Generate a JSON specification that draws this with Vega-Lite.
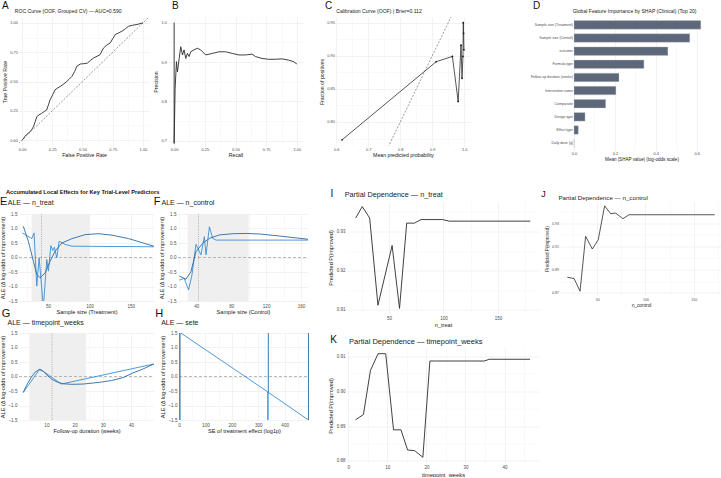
{
  "$schema": "https://vega.github.io/schema/vega-lite/v6.json",
  "background": "white",
  "padding": {"left": 0, "top": 0, "right": 0, "bottom": 0},
  "config": {
    "font": "Liberation Sans",
    "view": {"stroke": null},
    "axis": {"domain": false, "ticks": false, "gridColor": "#e4e4e4", "gridWidth": 0.5, "labelColor": "#4d4d4d", "titleColor": "#1a1a1a", "titleFontWeight": "normal", "labelOverlap": false, "labelFlush": false},
    "title": {"anchor": "start", "frame": "group", "fontWeight": "normal", "color": "#111111", "subtitleColor": "#1a1a1a", "subtitleFont": "Liberation Sans"}
  },
  "datasets": {
    "calibration": [
      {"mp": 0.618, "fp": 0.773}, {"mp": 0.912, "fp": 0.891}, {"mp": 0.963, "fp": 0.899}, {"mp": 0.981, "fp": 0.831}, {"mp": 0.99, "fp": 0.916}, {"mp": 0.993, "fp": 0.866}, {"mp": 0.996, "fp": 0.899}, {"mp": 0.997, "fp": 0.95}, {"mp": 0.998, "fp": 0.934}, {"mp": 0.999, "fp": 0.909}
    ]
  },
  "spacing": 26.5,
  "vconcat": [
    {
      "spacing": 4,
      "hconcat": [
        {
          "width": 130, "height": 129,
          "title": {"text": "A", "subtitle": "\u200b\u00a0\u00a0\u00a0\u00a0\u00a0\u00a0\u00a0\u00a0\u00a0ROC Curve (OOF, Grouped CV) — AUC=0.590", "fontSize": 10, "subtitleFontSize": 5.1, "subtitlePadding": -2, "dx": -17, "offset": 3},
          "encoding": {
            "x": {"field": "fpr", "type": "quantitative", "scale": {"domain": [-0.025, 1.05], "nice": false, "zero": false},
              "axis": {"title": "False Positive Rate", "values": [0, 0.125, 0.25, 0.375, 0.5, 0.625, 0.75, 0.875, 1], "format": ".2f", "labelExpr": "indexof([0,0.25,0.5,0.75,1], datum.value) >= 0 ? datum.label : ''", "gridColor": {"condition": {"test": "indexof([0,0.25,0.5,0.75,1], datum.value) >= 0", "value": "#e4e4e4"}, "value": "#f2f2f2"}, "labelFontSize": 4, "titleFontSize": 5.2, "labelPadding": 1, "titlePadding": 1}},
            "y": {"field": "tpr", "type": "quantitative", "scale": {"domain": [-0.05, 1.05], "nice": false, "zero": false},
              "axis": {"title": "True Positive Rate", "values": [0, 0.125, 0.25, 0.375, 0.5, 0.625, 0.75, 0.875, 1], "format": ".2f", "labelExpr": "indexof([0,0.25,0.5,0.75,1], datum.value) >= 0 ? datum.label : ''", "gridColor": {"condition": {"test": "indexof([0,0.25,0.5,0.75,1], datum.value) >= 0", "value": "#e4e4e4"}, "value": "#f2f2f2"}, "labelFontSize": 4, "titleFontSize": 5.2, "labelPadding": 1.5, "titlePadding": 2}}
          },
          "layer": [
            {
              "data": {"values": [{"fpr": -0.05, "tpr": -0.05}, {"fpr": 1.05, "tpr": 1.05}]},
              "mark": {"type": "line", "color": "#555555", "strokeWidth": 0.6, "strokeDash": [2, 1.5], "clip": true}
            },
            {
              "data": {"values": [
                {"fpr": 0, "tpr": 0}, {"fpr": 0.01, "tpr": 0.01}, {"fpr": 0.025, "tpr": 0.034}, {"fpr": 0.04, "tpr": 0.05}, {"fpr": 0.066, "tpr": 0.071}, {"fpr": 0.08, "tpr": 0.09}, {"fpr": 0.094, "tpr": 0.114}, {"fpr": 0.11, "tpr": 0.16}, {"fpr": 0.122, "tpr": 0.2}, {"fpr": 0.14, "tpr": 0.215}, {"fpr": 0.163, "tpr": 0.229}, {"fpr": 0.185, "tpr": 0.245}, {"fpr": 0.204, "tpr": 0.257}, {"fpr": 0.218, "tpr": 0.3}, {"fpr": 0.232, "tpr": 0.343}, {"fpr": 0.255, "tpr": 0.39}, {"fpr": 0.273, "tpr": 0.429}, {"fpr": 0.295, "tpr": 0.445}, {"fpr": 0.315, "tpr": 0.457}, {"fpr": 0.34, "tpr": 0.475}, {"fpr": 0.37, "tpr": 0.5}, {"fpr": 0.39, "tpr": 0.52}, {"fpr": 0.412, "tpr": 0.543}, {"fpr": 0.435, "tpr": 0.585}, {"fpr": 0.453, "tpr": 0.629}, {"fpr": 0.481, "tpr": 0.649}, {"fpr": 0.51, "tpr": 0.652}, {"fpr": 0.541, "tpr": 0.657}, {"fpr": 0.566, "tpr": 0.68}, {"fpr": 0.591, "tpr": 0.7}, {"fpr": 0.62, "tpr": 0.715}, {"fpr": 0.646, "tpr": 0.729}, {"fpr": 0.66, "tpr": 0.76}, {"fpr": 0.674, "tpr": 0.786}, {"fpr": 0.7, "tpr": 0.81}, {"fpr": 0.729, "tpr": 0.829}, {"fpr": 0.75, "tpr": 0.865}, {"fpr": 0.771, "tpr": 0.9}, {"fpr": 0.8, "tpr": 0.915}, {"fpr": 0.826, "tpr": 0.929}, {"fpr": 0.855, "tpr": 0.95}, {"fpr": 0.881, "tpr": 0.971}, {"fpr": 0.915, "tpr": 0.98}, {"fpr": 0.95, "tpr": 0.986}, {"fpr": 0.975, "tpr": 0.993}, {"fpr": 1, "tpr": 1}
              ]},
              "mark": {"type": "line", "color": "#2b2b2b", "strokeWidth": 0.9}
            }
          ]
        },
        {
          "spacing": 16,
          "hconcat": [
            {
              "width": 135, "height": 129,
              "title": {"text": "B", "fontSize": 10, "dx": 4, "offset": 6.1},
              "data": {"values": [
                {"i": 1, "r": 0, "p": 1.0}, {"i": 2, "r": 0, "p": 0.693}, {"i": 3, "r": 0.008, "p": 0.833}, {"i": 4, "r": 0.019, "p": 0.901}, {"i": 5, "r": 0.027, "p": 0.875}, {"i": 6, "r": 0.041, "p": 0.909}, {"i": 7, "r": 0.054, "p": 0.939}, {"i": 8, "r": 0.068, "p": 0.918}, {"i": 9, "r": 0.081, "p": 0.931}, {"i": 10, "r": 0.095, "p": 0.909}, {"i": 11, "r": 0.108, "p": 0.922}, {"i": 12, "r": 0.122, "p": 0.914}, {"i": 13, "r": 0.135, "p": 0.926}, {"i": 14, "r": 0.162, "p": 0.931}, {"i": 15, "r": 0.189, "p": 0.935}, {"i": 16, "r": 0.216, "p": 0.931}, {"i": 17, "r": 0.257, "p": 0.918}, {"i": 18, "r": 0.311, "p": 0.922}, {"i": 19, "r": 0.365, "p": 0.926}, {"i": 20, "r": 0.419, "p": 0.926}, {"i": 21, "r": 0.473, "p": 0.922}, {"i": 22, "r": 0.527, "p": 0.918}, {"i": 23, "r": 0.581, "p": 0.918}, {"i": 24, "r": 0.635, "p": 0.92}, {"i": 25, "r": 0.662, "p": 0.914}, {"i": 26, "r": 0.716, "p": 0.909}, {"i": 27, "r": 0.77, "p": 0.907}, {"i": 28, "r": 0.824, "p": 0.907}, {"i": 29, "r": 0.878, "p": 0.908}, {"i": 30, "r": 0.932, "p": 0.905}, {"i": 31, "r": 0.973, "p": 0.901}, {"i": 32, "r": 1.0, "p": 0.895}
              ]},
              "mark": {"type": "line", "color": "#2b2b2b", "strokeWidth": 0.9},
              "encoding": {
                "order": {"field": "i", "type": "quantitative"},
                "x": {"field": "r", "type": "quantitative", "scale": {"domain": [-0.05, 1.05], "nice": false, "zero": false},
                  "axis": {"title": "Recall", "values": [0, 0.125, 0.25, 0.375, 0.5, 0.625, 0.75, 0.875, 1], "format": ".2f", "labelExpr": "indexof([0,0.25,0.5,0.75,1], datum.value) >= 0 ? datum.label : ''", "gridColor": {"condition": {"test": "indexof([0,0.25,0.5,0.75,1], datum.value) >= 0", "value": "#e4e4e4"}, "value": "#f2f2f2"}, "labelFontSize": 4, "titleFontSize": 5.2, "labelPadding": 1, "titlePadding": 1}},
                "y": {"field": "p", "type": "quantitative", "scale": {"domain": [0.6865, 1.0145], "nice": false, "zero": false},
                  "axis": {"title": "Precision", "values": [0.7, 0.75, 0.8, 0.85, 0.9, 0.95, 1], "format": ".1f", "labelExpr": "indexof([0.7,0.8,0.9,1], datum.value) >= 0 ? datum.label : ''", "gridColor": {"condition": {"test": "indexof([0.7,0.8,0.9,1], datum.value) >= 0", "value": "#e4e4e4"}, "value": "#f2f2f2"}, "labelFontSize": 4, "titleFontSize": 5.2, "labelPadding": 1.5, "titlePadding": 2}}
              }
            },
            {
              "spacing": 60,
              "hconcat": [
                {
                  "width": 134, "height": 129,
                  "title": {"text": "C", "subtitle": "\u200b\u00a0\u00a0\u00a0\u00a0\u00a0\u00a0\u00a0\u00a0Calibration Curve (OOF) | Brier=0.112", "fontSize": 10, "subtitleFontSize": 5.1, "subtitlePadding": -2, "dx": -11, "offset": 3},
                  "encoding": {
                    "x": {"field": "mp", "type": "quantitative", "scale": {"domain": [0.599, 1.018], "nice": false, "zero": false},
                      "axis": {"title": "Mean predicted probability", "values": [0.6, 0.65, 0.7, 0.75, 0.8, 0.85, 0.9, 0.95, 1], "format": ".1f", "labelExpr": "indexof([0.6,0.7,0.8,0.9,1], datum.value) >= 0 ? datum.label : ''", "gridColor": {"condition": {"test": "indexof([0.6,0.7,0.8,0.9,1], datum.value) >= 0", "value": "#e4e4e4"}, "value": "#f2f2f2"}, "labelFontSize": 4, "titleFontSize": 5.2, "labelPadding": 1, "titlePadding": 1}},
                    "y": {"field": "fp", "type": "quantitative", "scale": {"domain": [0.7637, 0.9586], "nice": false, "zero": false},
                      "axis": {"title": "Fraction of positives", "values": [0.775, 0.8, 0.825, 0.85, 0.875, 0.9, 0.925, 0.95], "format": ".2f", "labelExpr": "indexof([0.8,0.85,0.9,0.95], datum.value) >= 0 ? datum.label : ''", "gridColor": {"condition": {"test": "indexof([0.8,0.85,0.9,0.95], datum.value) >= 0", "value": "#e4e4e4"}, "value": "#f2f2f2"}, "labelFontSize": 4, "titleFontSize": 5.2, "labelPadding": 1.5, "titlePadding": 2}}
                  },
                  "layer": [
                    {
                      "data": {"values": [{"mp": 0.6, "fp": 0.6}, {"mp": 1.05, "fp": 1.05}]},
                      "mark": {"type": "line", "color": "#555555", "strokeWidth": 0.6, "strokeDash": [2, 1.5], "clip": true}
                    },
                    {"data": {"name": "calibration"}, "mark": {"type": "line", "color": "#2b2b2b", "strokeWidth": 0.8}},
                    {"data": {"name": "calibration"}, "mark": {"type": "point", "filled": true, "color": "#111111", "size": 3, "opacity": 1}}
                  ]
                },
                {
                  "width": 135, "height": 134,
                  "title": {"text": "D", "subtitle": "\u200b\u00a0\u00a0\u00a0\u00a0\u00a0\u00a0\u00a0\u00a0\u00a0\u00a0\u00a0\u00a0\u00a0\u00a0\u00a0\u00a0\u00a0\u00a0\u00a0\u00a0\u00a0\u00a0\u00a0\u00a0\u00a0\u00a0\u00a0\u00a0Global Feature Importance by SHAP (Clinical) (Top 20)", "fontSize": 10, "subtitleFontSize": 5.1, "subtitlePadding": -2, "dx": -41, "offset": 3},
                  "data": {"values": [
                    {"feature": "Sample size (Treatment)", "shap": 0.62}, {"feature": "Sample size (Control)", "shap": 0.566}, {"feature": "outcome", "shap": 0.459}, {"feature": "Formula type", "shap": 0.342}, {"feature": "Follow-up duration (weeks)", "shap": 0.22}, {"feature": "Intervention name", "shap": 0.205}, {"feature": "Comparator", "shap": 0.155}, {"feature": "Design type", "shap": 0.054}, {"feature": "Effect type", "shap": 0.021}, {"feature": "Daily dose (g)", "shap": 0.0005}
                  ]},
                  "mark": {"type": "bar", "color": "#5c6779", "stroke": "#c5cad3", "strokeWidth": 0.4},
                  "encoding": {
                    "y": {"field": "feature", "type": "nominal", "sort": "-x", "scale": {"paddingInner": 0.35, "paddingOuter": 0.275},
                      "axis": {"title": null, "labelFontSize": 3.5, "labelPadding": 1.5, "bandPosition": 0.5, "gridColor": "#e9e9e9"}},
                    "x": {"field": "shap", "type": "quantitative", "scale": {"domain": [0, 0.66], "nice": false, "zero": false},
                      "axis": {"title": "Mean |SHAP value| (log-odds scale)", "values": [0, 0.1, 0.2, 0.3, 0.4, 0.5, 0.6], "format": ".1f", "labelExpr": "indexof([0,0.2,0.4,0.6], datum.value) >= 0 ? datum.label : ''", "gridColor": {"condition": {"test": "indexof([0,0.2,0.4,0.6], datum.value) >= 0", "value": "#e4e4e4"}, "value": "#f2f2f2"}, "labelFontSize": 4, "titleFontSize": 4.6, "labelPadding": 0.5, "titlePadding": 1}}
                  }
                }
              ]
            }
          ]
        }
      ]
    },
    {
      "spacing": 18,
      "hconcat": [
        {
          "spacing": -6.5,
          "vconcat": [
            {
              "width": 1, "height": 1,
              "title": {"text": "Accumulated Local Effects for Key Trial-Level Predictors", "fontSize": 5.7, "fontWeight": "bold", "dx": -13, "offset": 6.5},
              "data": {"values": []},
              "mark": "point"
            },
            {
              "spacing": -8,
              "vconcat": [
                {
                  "spacing": -2,
                  "hconcat": [
                    {
                      "width": 135, "height": 87,
                      "title": {"text": "E", "subtitle": "\u200b\u00a0\u00a0\u00a0\u00a0ALE — n_treat", "fontSize": 11, "subtitleFontSize": 7, "subtitlePadding": -8, "dx": -19, "offset": 4},
                      "encoding": {
                        "x": {"field": "x", "type": "quantitative", "scale": {"domain": [14.8, 178], "nice": false, "zero": false},
                          "axis": {"title": "Sample size (Treatment)", "values": [25, 50, 75, 100, 125, 150, 175], "labelExpr": "indexof([50,100,150], datum.value) >= 0 ? datum.label : ''", "gridColor": {"condition": {"test": "indexof([50,100,150], datum.value) >= 0", "value": "#e4e4e4"}, "value": "#f2f2f2"}, "labelFontSize": 4.6, "titleFontSize": 5.6, "labelPadding": 2, "titlePadding": 2}},
                        "y": {"field": "y", "type": "quantitative", "scale": {"domain": [-1.5, 1.5], "nice": false, "zero": false},
                          "axis": {"title": "ALE (Δ log-odds of improvement)", "values": [-1.5, -1, -0.5, 0, 0.5, 1, 1.5], "format": ".1f", "labelFontSize": 4.6, "titleFontSize": 5.6, "labelPadding": 2, "titlePadding": 2}}
                      },
                      "layer": [
                        {"data": {"values": [{"x": 30, "x2": 100, "y": -1.5, "y2": 1.5}]}, "mark": {"type": "rect", "color": "#efefef"}, "encoding": {"x2": {"field": "x2"}, "y2": {"field": "y2"}}},
                        {"data": {"values": [{"x": 14.8, "x2": 178, "y": 0}]}, "mark": {"type": "rule", "color": "#8c8c8c", "strokeDash": [3, 2], "strokeWidth": 0.6}, "encoding": {"x2": {"field": "x2"}}},
                        {"data": {"values": [{"x": 42, "y": -1.5, "y2": 1.5}]}, "mark": {"type": "rule", "color": "#9a9a9a", "strokeDash": [1, 1.2], "strokeWidth": 0.7}, "encoding": {"y2": {"field": "y2"}}},
                        {
                          "data": {"values": [
                            {"c": "ALE", "x": 18.8, "y": 0.847}, {"c": "ALE", "x": 30.2, "y": 0.652}, {"c": "ALE", "x": 33.0, "y": 0.847}, {"c": "ALE", "x": 36.3, "y": -0.986}, {"c": "ALE", "x": 39.1, "y": -0.012}, {"c": "ALE", "x": 44.3, "y": -1.7}, {"c": "ALE", "x": 48.4, "y": -0.07}, {"c": "ALE", "x": 50.4, "y": -0.47}, {"c": "ALE", "x": 53.3, "y": 0.41}, {"c": "ALE", "x": 55.7, "y": 0.24}, {"c": "ALE", "x": 57.6, "y": 0.355}, {"c": "ALE", "x": 60.5, "y": -0.01}, {"c": "ALE", "x": 63.3, "y": 0.56}, {"c": "ALE", "x": 70.6, "y": 0.45}, {"c": "ALE", "x": 78.8, "y": 0.39}, {"c": "ALE", "x": 177.8, "y": 0.37},
                            {"c": "trend", "x": 20.0, "y": 1.076}, {"c": "trend", "x": 26.1, "y": 0.56}, {"c": "trend", "x": 32.2, "y": -0.13}, {"c": "trend", "x": 36.3, "y": -0.58}, {"c": "trend", "x": 40.3, "y": -0.7}, {"c": "trend", "x": 46.4, "y": -0.53}, {"c": "trend", "x": 52.4, "y": -0.13}, {"c": "trend", "x": 58.5, "y": 0.22}, {"c": "trend", "x": 66.6, "y": 0.5}, {"c": "trend", "x": 78.8, "y": 0.65}, {"c": "trend", "x": 94.9, "y": 0.79}, {"c": "trend", "x": 111, "y": 0.82}, {"c": "trend", "x": 127.3, "y": 0.77}, {"c": "trend", "x": 147.5, "y": 0.65}, {"c": "trend", "x": 163.7, "y": 0.51}, {"c": "trend", "x": 177.8, "y": 0.39}
                          ]},
                          "mark": {"type": "line", "strokeWidth": 0.9, "clip": true},
                          "encoding": {"color": {"field": "c", "type": "nominal", "scale": {"domain": ["ALE", "trend"], "range": ["#3d8dd0", "#2b6aa5"]}, "legend": null}}
                        }
                      ]
                    },
                    {
                      "width": 130, "height": 87,
                      "title": {"text": "F", "subtitle": "\u200b\u00a0\u00a0\u00a0\u00a0ALE — n_control", "fontSize": 11, "subtitleFontSize": 7, "subtitlePadding": -8, "dx": -24.3, "offset": 4},
                      "encoding": {
                        "x": {"field": "x", "type": "quantitative", "scale": {"domain": [19, 168], "nice": false, "zero": false},
                          "axis": {"title": "Sample size (Control)", "values": [20, 40, 60, 80, 100, 120, 140, 160], "labelExpr": "indexof([40,80,120,160], datum.value) >= 0 ? datum.label : ''", "gridColor": {"condition": {"test": "indexof([40,80,120,160], datum.value) >= 0", "value": "#e4e4e4"}, "value": "#f2f2f2"}, "labelFontSize": 4.6, "titleFontSize": 5.6, "labelPadding": 2, "titlePadding": 2}},
                        "y": {"field": "y", "type": "quantitative", "scale": {"domain": [-1.5, 1.5], "nice": false, "zero": false},
                          "axis": {"title": "ALE (Δ log-odds of improvement)", "values": [-1.5, -1, -0.5, 0, 0.5, 1, 1.5], "format": ".1f", "labelFontSize": 4.6, "titleFontSize": 5.6, "labelPadding": 2, "titlePadding": 2}}
                      },
                      "layer": [
                        {"data": {"values": [{"x": 30, "x2": 100, "y": -1.5, "y2": 1.5}]}, "mark": {"type": "rect", "color": "#efefef"}, "encoding": {"x2": {"field": "x2"}, "y2": {"field": "y2"}}},
                        {"data": {"values": [{"x": 19, "x2": 168, "y": 0}]}, "mark": {"type": "rule", "color": "#8c8c8c", "strokeDash": [3, 2], "strokeWidth": 0.6}, "encoding": {"x2": {"field": "x2"}}},
                        {"data": {"values": [{"x": 42.5, "y": -1.5, "y2": 1.5}]}, "mark": {"type": "rule", "color": "#9a9a9a", "strokeDash": [1, 1.2], "strokeWidth": 0.7}, "encoding": {"y2": {"field": "y2"}}},
                        {
                          "data": {"values": [
                            {"c": "ALE", "x": 20.4, "y": -0.78}, {"c": "ALE", "x": 26.1, "y": -0.72}, {"c": "ALE", "x": 31.1, "y": -1.12}, {"c": "ALE", "x": 35.0, "y": -0.6}, {"c": "ALE", "x": 39.6, "y": 0.45}, {"c": "ALE", "x": 45.3, "y": 0.09}, {"c": "ALE", "x": 49.2, "y": 0.72}, {"c": "ALE", "x": 51.1, "y": 0.09}, {"c": "ALE", "x": 55.0, "y": 1.06}, {"c": "ALE", "x": 58.8, "y": 0.66}, {"c": "ALE", "x": 62.6, "y": 0.6}, {"c": "ALE", "x": 168, "y": 0.6},
                            {"c": "trend", "x": 20.4, "y": -0.64}, {"c": "trend", "x": 28.1, "y": -0.75}, {"c": "trend", "x": 33.8, "y": -0.49}, {"c": "trend", "x": 39.6, "y": 0.2}, {"c": "trend", "x": 47.3, "y": 0.49}, {"c": "trend", "x": 55.0, "y": 0.66}, {"c": "trend", "x": 66.6, "y": 0.78}, {"c": "trend", "x": 81.9, "y": 0.82}, {"c": "trend", "x": 97.2, "y": 0.83}, {"c": "trend", "x": 112.7, "y": 0.81}, {"c": "trend", "x": 135.8, "y": 0.74}, {"c": "trend", "x": 158.8, "y": 0.66}, {"c": "trend", "x": 168, "y": 0.63}
                          ]},
                          "mark": {"type": "line", "strokeWidth": 0.9, "clip": true},
                          "encoding": {"color": {"field": "c", "type": "nominal", "scale": {"domain": ["ALE", "trend"], "range": ["#3d8dd0", "#2b6aa5"]}, "legend": null}}
                        }
                      ]
                    }
                  ]
                },
                {
                  "spacing": 0,
                  "hconcat": [
                    {
                      "width": 135, "height": 87,
                      "title": {"text": "G", "subtitle": "\u200b\u00a0\u00a0\u00a0ALE — timepoint_weeks", "fontSize": 11, "subtitleFontSize": 7, "subtitlePadding": -0.3, "dx": -17.3, "offset": 4},
                      "encoding": {
                        "x": {"field": "x", "type": "quantitative", "scale": {"domain": [0.3, 48.1], "nice": false, "zero": false},
                          "axis": {"title": "Follow-up duration (weeks)", "values": [5, 10, 15, 20, 25, 30, 35, 40, 45], "labelExpr": "indexof([10,20,30,40], datum.value) >= 0 ? datum.label : ''", "gridColor": {"condition": {"test": "indexof([10,20,30,40], datum.value) >= 0", "value": "#e4e4e4"}, "value": "#f2f2f2"}, "labelFontSize": 4.6, "titleFontSize": 5.6, "labelPadding": 2, "titlePadding": 2}},
                        "y": {"field": "y", "type": "quantitative", "scale": {"domain": [-1.5, 1.5], "nice": false, "zero": false},
                          "axis": {"title": "ALE (Δ log-odds of improvement)", "values": [-1.5, -1, -0.5, 0, 0.5, 1, 1.5], "format": ".1f", "labelFontSize": 4.6, "titleFontSize": 5.6, "labelPadding": 2, "titlePadding": 2}}
                      },
                      "layer": [
                        {"data": {"values": [{"x": 4, "x2": 24, "y": -1.5, "y2": 1.5}]}, "mark": {"type": "rect", "color": "#efefef"}, "encoding": {"x2": {"field": "x2"}, "y2": {"field": "y2"}}},
                        {"data": {"values": [{"x": 0.3, "x2": 48.1, "y": 0}]}, "mark": {"type": "rule", "color": "#8c8c8c", "strokeDash": [3, 2], "strokeWidth": 0.6}, "encoding": {"x2": {"field": "x2"}}},
                        {"data": {"values": [{"x": 12, "y": -1.5, "y2": 1.5}]}, "mark": {"type": "rule", "color": "#9a9a9a", "strokeDash": [1, 1.2], "strokeWidth": 0.7}, "encoding": {"y2": {"field": "y2"}}},
                        {
                          "data": {"values": [
                            {"c": "ALE", "x": 1.8, "y": -0.55}, {"c": "ALE", "x": 7.7, "y": 0.26}, {"c": "ALE", "x": 15.3, "y": -0.26}, {"c": "ALE", "x": 48, "y": 0.43},
                            {"c": "trend", "x": 1.8, "y": -0.55}, {"c": "trend", "x": 3, "y": -0.3}, {"c": "trend", "x": 4.5, "y": -0.05}, {"c": "trend", "x": 6, "y": 0.15}, {"c": "trend", "x": 7.5, "y": 0.24}, {"c": "trend", "x": 9, "y": 0.17}, {"c": "trend", "x": 10.5, "y": 0.02}, {"c": "trend", "x": 12, "y": -0.1}, {"c": "trend", "x": 14, "y": -0.2}, {"c": "trend", "x": 16, "y": -0.25}, {"c": "trend", "x": 19, "y": -0.27}, {"c": "trend", "x": 23, "y": -0.26}, {"c": "trend", "x": 28.9, "y": -0.2}, {"c": "trend", "x": 33, "y": -0.14}, {"c": "trend", "x": 37.1, "y": -0.04}, {"c": "trend", "x": 40.6, "y": 0.12}, {"c": "trend", "x": 44, "y": 0.25}, {"c": "trend", "x": 48, "y": 0.43}
                          ]},
                          "mark": {"type": "line", "strokeWidth": 0.9, "clip": true},
                          "encoding": {"color": {"field": "c", "type": "nominal", "scale": {"domain": ["ALE", "trend"], "range": ["#3d8dd0", "#2b6aa5"]}, "legend": null}}
                        }
                      ]
                    },
                    {
                      "width": 130, "height": 87,
                      "title": {"text": "H", "subtitle": "\u200b\u00a0\u00a0\u00a0ALE — sete", "fontSize": 11, "subtitleFontSize": 7, "subtitlePadding": -0.3, "dx": -23.7, "offset": 4},
                      "encoding": {
                        "x": {"field": "x", "type": "quantitative", "scale": {"domain": [0, 492], "nice": false, "zero": false},
                          "axis": {"title": "SE of treatment effect (log1p)", "values": [0, 50, 100, 150, 200, 250, 300, 350, 400, 450], "labelExpr": "indexof([0,100,200,300,400], datum.value) >= 0 ? datum.label : ''", "gridColor": {"condition": {"test": "indexof([0,100,200,300,400], datum.value) >= 0", "value": "#e4e4e4"}, "value": "#f2f2f2"}, "labelFontSize": 4.6, "titleFontSize": 5.6, "labelPadding": 2, "titlePadding": 2}},
                        "y": {"field": "y", "type": "quantitative", "scale": {"domain": [-1.5, 1.5], "nice": false, "zero": false},
                          "axis": {"title": "ALE (Δ log-odds of improvement)", "values": [-1.5, -1, -0.5, 0, 0.5, 1, 1.5], "format": ".1f", "labelFontSize": 4.6, "titleFontSize": 5.6, "labelPadding": 2, "titlePadding": 2}}
                      },
                      "layer": [
                        {"data": {"values": [{"x": 0, "x2": 492, "y": 0}]}, "mark": {"type": "rule", "color": "#8c8c8c", "strokeDash": [3, 2], "strokeWidth": 0.6}, "encoding": {"x2": {"field": "x2"}}},
                        {
                          "data": {"values": [
                            {"c": "ALE", "s": "a", "x": 0.3, "y": -30}, {"c": "ALE", "s": "a", "x": 2.5, "y": 30}, {"c": "ALE", "s": "a", "x": 6.8, "y": 1.5}, {"c": "ALE", "s": "a", "x": 336, "y": -0.53}, {"c": "ALE", "s": "a", "x": 336.5, "y": -40}, {"c": "ALE", "s": "a", "x": 337, "y": -0.54}, {"c": "ALE", "s": "a", "x": 490, "y": -1.5},
                            {"c": "trend", "s": "b", "x": 3.5, "y": -40}, {"c": "trend", "s": "b", "x": 4.5, "y": 40},
                            {"c": "trend", "s": "c", "x": 338, "y": -0.56}, {"c": "trend", "s": "c", "x": 338.5, "y": 40},
                            {"c": "trend", "s": "d", "x": 489.5, "y": 40}, {"c": "trend", "s": "d", "x": 490, "y": -1.6}
                          ]},
                          "mark": {"type": "line", "strokeWidth": 0.9, "clip": true},
                          "encoding": {
                            "color": {"field": "c", "type": "nominal", "scale": {"domain": ["ALE", "trend"], "range": ["#3d8dd0", "#2b6aa5"]}, "legend": null},
                            "detail": {"field": "s", "type": "nominal"}
                          }
                        }
                      ]
                    }
                  ]
                }
              ]
            }
          ]
        },
        {
          "spacing": 2,
          "hconcat": [
            {
              "spacing": 6,
              "vconcat": [
                {
                  "width": 192, "height": 112,
                  "title": {"text": "I", "subtitle": "\u200b\u00a0\u00a0\u00a0\u00a0\u00a0\u00a0\u00a0Partial Dependence — n_treat", "fontSize": 10, "subtitleFontSize": 7.3, "subtitlePadding": -7.8, "dx": -16.5, "offset": 3},
                  "data": {"values": [
                    {"n_treat": 19.5, "pd": 0.9334}, {"n_treat": 25.5, "pd": 0.9363}, {"n_treat": 32.3, "pd": 0.9334}, {"n_treat": 39.9, "pd": 0.9112}, {"n_treat": 52.9, "pd": 0.9264}, {"n_treat": 59.7, "pd": 0.9104}, {"n_treat": 66.3, "pd": 0.9321}, {"n_treat": 73.4, "pd": 0.9321}, {"n_treat": 79.4, "pd": 0.933}, {"n_treat": 99.2, "pd": 0.933}, {"n_treat": 105.3, "pd": 0.9326}, {"n_treat": 179.7, "pd": 0.9326}
                  ]},
                  "mark": {"type": "line", "color": "#2b2b2b", "strokeWidth": 0.9},
                  "encoding": {
                    "x": {"field": "n_treat", "type": "quantitative", "scale": {"domain": [11.5, 187.7], "nice": false, "zero": false},
                      "axis": {"title": "n_treat", "values": [25, 50, 75, 100, 125, 150, 175], "labelExpr": "indexof([50,100,150], datum.value) >= 0 ? datum.label : ''", "gridColor": {"condition": {"test": "indexof([50,100,150], datum.value) >= 0", "value": "#e4e4e4"}, "value": "#f2f2f2"}, "labelFontSize": 4.5, "titleFontSize": 5.6, "labelPadding": 2, "titlePadding": 2}},
                    "y": {"field": "pd", "type": "quantitative", "scale": {"domain": [0.9091, 0.9376], "nice": false, "zero": false},
                      "axis": {"title": "Predicted P(improved)", "values": [0.91, 0.915, 0.92, 0.925, 0.93, 0.935], "format": ".2f", "labelExpr": "indexof([0.91,0.92,0.93], datum.value) >= 0 ? datum.label : ''", "gridColor": {"condition": {"test": "indexof([0.91,0.92,0.93], datum.value) >= 0", "value": "#e4e4e4"}, "value": "#f2f2f2"}, "labelFontSize": 4.5, "titleFontSize": 5.6, "labelPadding": 2, "titlePadding": 3}}
                  }
                },
                {
                  "width": 192, "height": 114,
                  "title": {"text": "K", "subtitle": "\u200b\u00a0\u00a0\u00a0\u00a0\u00a0\u00a0\u00a0\u00a0\u00a0Partial Dependence — timepoint_weeks", "fontSize": 10, "subtitleFontSize": 7.5, "subtitlePadding": -6.8, "dx": -16.7, "offset": 3},
                  "data": {"values": [
                    {"timepoint_weeks": 1.9, "pd": 0.8918}, {"timepoint_weeks": 3.9, "pd": 0.8933}, {"timepoint_weeks": 5.7, "pd": 0.906}, {"timepoint_weeks": 7.65, "pd": 0.9108}, {"timepoint_weeks": 9.6, "pd": 0.9108}, {"timepoint_weeks": 11.6, "pd": 0.8889}, {"timepoint_weeks": 13.5, "pd": 0.8889}, {"timepoint_weeks": 15.2, "pd": 0.8831}, {"timepoint_weeks": 17.0, "pd": 0.8829}, {"timepoint_weeks": 19.1, "pd": 0.881}, {"timepoint_weeks": 20.9, "pd": 0.9087}, {"timepoint_weeks": 22.6, "pd": 0.9087}, {"timepoint_weeks": 34.8, "pd": 0.9087}, {"timepoint_weeks": 36.1, "pd": 0.9092}, {"timepoint_weeks": 46.5, "pd": 0.9092}
                  ]},
                  "mark": {"type": "line", "color": "#2b2b2b", "strokeWidth": 0.9},
                  "encoding": {
                    "x": {"field": "timepoint_weeks", "type": "quantitative", "scale": {"domain": [-0.3, 48.8], "nice": false, "zero": false},
                      "axis": {"title": "timepoint_weeks", "values": [0, 5, 10, 15, 20, 25, 30, 35, 40, 45], "labelExpr": "indexof([0,10,20,30,40], datum.value) >= 0 ? datum.label : ''", "gridColor": {"condition": {"test": "indexof([0,10,20,30,40], datum.value) >= 0", "value": "#e4e4e4"}, "value": "#f2f2f2"}, "labelFontSize": 4.5, "titleFontSize": 5.8, "labelPadding": 2, "titlePadding": 2}},
                    "y": {"field": "pd", "type": "quantitative", "scale": {"domain": [0.8795, 0.9123], "nice": false, "zero": false},
                      "axis": {"title": "Predicted P(improved)", "values": [0.88, 0.885, 0.89, 0.895, 0.9, 0.905, 0.91], "format": ".2f", "labelExpr": "indexof([0.88,0.89,0.9,0.91], datum.value) >= 0 ? datum.label : ''", "gridColor": {"condition": {"test": "indexof([0.88,0.89,0.9,0.91], datum.value) >= 0", "value": "#e4e4e4"}, "value": "#f2f2f2"}, "labelFontSize": 4.5, "titleFontSize": 5.6, "labelPadding": 2, "titlePadding": 3}}
                  }
                }
              ]
            },
            {
              "width": 162, "height": 94,
              "title": {"text": "J", "subtitle": "\u200b\u00a0\u00a0\u00a0\u00a0\u00a0\u00a0\u00a0\u00a0\u00a0\u00a0Partial Dependence — n_control", "fontSize": 9, "subtitleFontSize": 6.2, "subtitlePadding": -3.8, "dx": -18.7, "offset": 0.5},
              "data": {"values": [
                {"n_control": 18.9, "pd": 0.8834}, {"n_control": 25.9, "pd": 0.8823}, {"n_control": 32.1, "pd": 0.8714}, {"n_control": 37.9, "pd": 0.9186}, {"n_control": 44.8, "pd": 0.9077}, {"n_control": 51.0, "pd": 0.9157}, {"n_control": 57.6, "pd": 0.9449}, {"n_control": 63.8, "pd": 0.9381}, {"n_control": 69.0, "pd": 0.9386}, {"n_control": 76.6, "pd": 0.9338}, {"n_control": 82.8, "pd": 0.9372}, {"n_control": 171.8, "pd": 0.9372}
              ]},
              "mark": {"type": "line", "color": "#2b2b2b", "strokeWidth": 0.8},
              "encoding": {
                "x": {"field": "n_control", "type": "quantitative", "scale": {"domain": [11.3, 179.4], "nice": false, "zero": false},
                  "axis": {"title": "n_control", "values": [25, 50, 75, 100, 125, 150, 175], "labelExpr": "indexof([50,100,150], datum.value) >= 0 ? datum.label : ''", "gridColor": {"condition": {"test": "indexof([50,100,150], datum.value) >= 0", "value": "#e4e4e4"}, "value": "#f2f2f2"}, "labelFontSize": 3.6, "titleFontSize": 4.8, "labelPadding": 1.5, "titlePadding": 2}},
                "y": {"field": "pd", "type": "quantitative", "scale": {"domain": [0.8677, 0.9486], "nice": false, "zero": false},
                  "axis": {"title": "Predicted P(improved)", "values": [0.87, 0.88, 0.89, 0.9, 0.91, 0.92, 0.93, 0.94], "format": ".2f", "labelExpr": "indexof([0.87,0.89,0.91,0.93], datum.value) >= 0 ? datum.label : ''", "gridColor": {"condition": {"test": "indexof([0.87,0.89,0.91,0.93], datum.value) >= 0", "value": "#e4e4e4"}, "value": "#f2f2f2"}, "labelFontSize": 3.6, "titleFontSize": 4.6, "labelPadding": 1.5, "titlePadding": 2.5}}
              }
            }
          ]
        }
      ]
    }
  ]
}
